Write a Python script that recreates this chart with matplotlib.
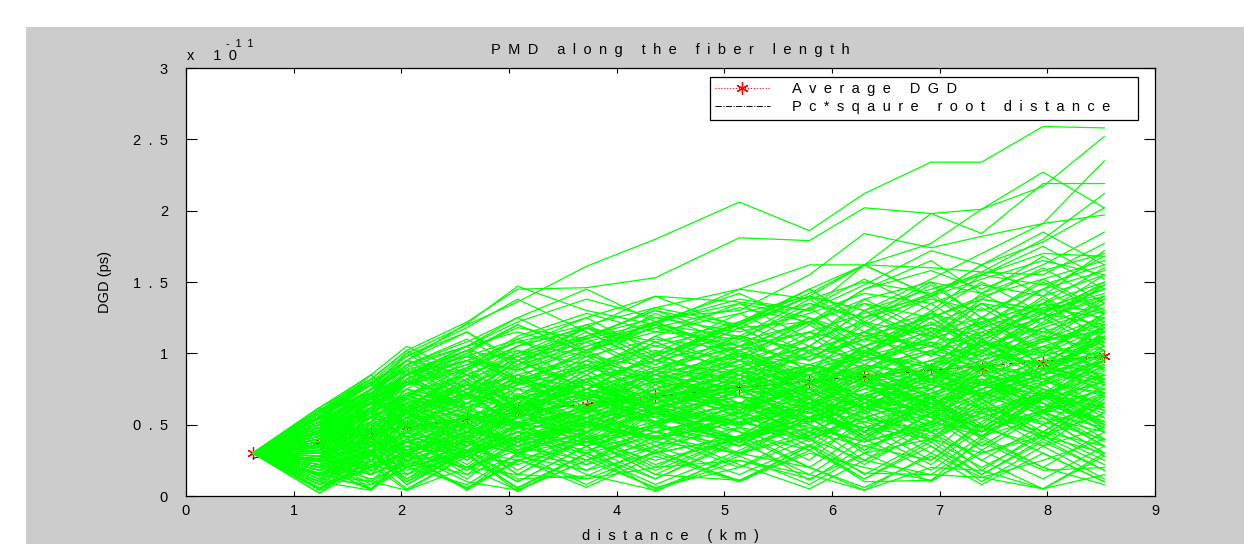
import numpy as np
import matplotlib
matplotlib.use("Agg")
import matplotlib.pyplot as plt
from matplotlib.patches import Rectangle

plt.rcParams['font.family'] = ['Liberation Sans', 'DejaVu Sans']

# fiber sections (km) at which the DGD is evaluated
distance_km = [0.62, 1.24, 1.72, 2.05, 2.61, 3.08, 3.72, 4.36, 5.14, 5.79,
               6.30, 6.92, 7.39, 7.96, 8.53]

# mean DGD over all fiber realisations (x 1e-11 s)
average_dgd = [0.30, 0.38, 0.45, 0.49, 0.55, 0.60, 0.64, 0.70, 0.76, 0.80,
               0.84, 0.89, 0.90, 0.93, 0.98]

# PMD coefficient used for the square-root reference curve
PC = 0.335

# individual fiber realisations (x 1e-11 s)
upper_paths = [
    [.30, .55, .80, 1.00, 1.20, 1.36, 1.61, 1.80, 2.06, 1.86, 2.12, 2.34, 2.34, 2.59, 2.58],
    [.30, .60, .82, 1.02, 1.22, 1.45, 1.46, 1.53, 1.81, 1.79, 2.02, 1.98, 2.01, 2.27, 2.02],
    [.30, .58, .78, .95, 1.21, 1.47, 1.30, 1.20, 1.45, 1.62, 1.62, 1.77, 2.01, 2.17, 2.52],
    [.30, .50, .72, .90, 1.05, 1.22, 1.38, 1.25, 1.30, 1.55, 1.84, 1.74, 1.82, 1.91, 2.35],
    [.30, .52, .70, .85, .98, 1.10, 1.25, 1.40, 1.36, 1.30, 1.62, 1.98, 1.84, 2.19, 2.19],
    [.30, .45, .65, .85, 1.02, 1.18, 1.10, 1.32, 1.20, 1.45, 1.62, 1.60, 1.57, 1.80, 2.12],
    [.30, .48, .62, .80, .95, .88, 1.05, 1.22, 1.38, 1.30, 1.48, 1.72, 1.62, 1.78, 2.02],
    [.30, .40, .60, .78, .88, 1.05, 1.18, 1.05, 1.20, 1.40, 1.30, 1.52, 1.70, 1.91, 1.97],
    [.30, .55, .75, .88, 1.02, .95, 1.12, 1.30, 1.18, 1.22, 1.45, 1.58, 1.45, 1.62, 1.85],
    [.30, .45, .55, .70, .90, 1.12, 1.28, 1.15, 1.10, 1.35, 1.25, 1.42, 1.57, 1.55, 1.77],
]

high_paths = [
    [.30, .55, .75, .92, 1.05, 1.15, 1.02, 1.18, 1.32, 1.22, 1.38, 1.50, 1.42, 1.58, 1.70],
    [.30, .50, .70, .85, .98, .88, 1.02, 1.15, 1.28, 1.40, 1.30, 1.45, 1.55, 1.48, 1.62],
    [.30, .60, .80, .95, .85, 1.00, 1.12, 1.25, 1.15, 1.28, 1.42, 1.35, 1.48, 1.40, 1.55],
    [.30, .45, .62, .78, .90, 1.05, 1.18, 1.08, 1.22, 1.35, 1.25, 1.38, 1.30, 1.45, 1.58],
    [.30, .52, .68, .80, .92, 1.08, .98, 1.10, 1.02, 1.15, 1.28, 1.40, 1.52, 1.65, 1.55],
    [.30, .40, .58, .72, .85, .98, 1.10, 1.22, 1.35, 1.25, 1.12, 1.25, 1.38, 1.30, 1.42],
    [.30, .58, .72, .68, .82, .95, 1.08, 1.20, 1.12, 1.02, 1.15, 1.05, 1.18, 1.32, 1.45],
    [.30, .48, .66, .82, .95, 1.08, 1.20, 1.32, 1.45, 1.38, 1.50, 1.42, 1.55, 1.70, 1.68],
    [.30, .58, .82, .62, .88, 1.10, .85, 1.12, 1.35, 1.10, 1.38, 1.15, 1.42, 1.20, 1.48],
    [.30, .50, .30, .55, .80, .58, .85, 1.08, .85, 1.10, 1.35, 1.12, 1.38, 1.60, 1.35],
    [.30, .40, .65, .88, .70, .95, 1.18, .95, 1.22, 1.00, 1.25, 1.50, 1.25, 1.52, 1.30],
    [.30, .62, .85, 1.05, .85, .62, .88, 1.12, .90, 1.15, .92, 1.18, .95, 1.22, 1.48],
    [.30, .46, .70, .50, .75, .98, .75, 1.00, .78, 1.05, 1.30, 1.05, 1.32, 1.08, 1.35],
    [.30, .28, .52, .75, .98, .78, 1.02, .80, 1.05, .82, .60, .85, 1.10, .88, 1.15],
    [.30, .54, .78, .98, 1.18, 1.38, 1.15, .92, 1.18, .95, 1.22, .98, 1.25, 1.02, 1.28],
    [.30, .36, .60, .40, .65, .88, 1.10, .88, 1.12, 1.38, 1.15, 1.40, 1.18, 1.45, 1.22],
    [.30, .20, .45, .68, .45, .70, .92, .70, .95, .72, .98, .75, 1.00, 1.25, 1.50],
    [.30, .60, .40, .65, .42, .68, .45, .70, .95, 1.20, .98, 1.22, 1.00, 1.25, 1.02],
    [.30, .42, .62, .82, 1.00, .80, .58, .82, .60, .85, .62, .88, 1.12, 1.38, 1.15],
    [.30, .52, .72, .92, .72, .95, .75, .98, 1.22, 1.45, 1.22, .98, 1.25, 1.00, 1.28],
    [.30, .44, .65, .85, 1.05, 1.25, 1.45, 1.22, .98, 1.22, 1.00, 1.25, 1.02, 1.28, 1.05],
    [.30, .38, .15, .40, .18, .42, .65, .88, .65, .90, .68, .92, 1.15, .92, 1.18],
    [.30, .32, .56, .78, 1.00, 1.20, 1.00, 1.22, 1.00, .78, 1.02, .80, 1.05, .82, .60],
    [.30, .50, .72, .92, 1.10, .90, 1.12, 1.30, 1.10, 1.32, 1.52, 1.30, 1.55, 1.75, 1.52],
    [.30, .44, .66, .86, 1.02, 1.20, 1.00, 1.22, 1.42, 1.20, 1.45, 1.65, 1.42, 1.68, 1.45],
    [.30, .56, .78, .58, .80, 1.00, 1.20, .98, 1.22, 1.42, 1.62, 1.40, 1.62, 1.40, 1.72],
    [.30, .40, .62, .82, 1.02, .80, 1.02, 1.22, 1.02, 1.25, 1.05, 1.28, 1.50, 1.28, 1.55],
    [.30, .52, .74, .95, .75, .98, 1.18, 1.40, 1.18, 1.40, 1.62, 1.40, 1.62, 1.85, 1.62],
    [.30, .60, .78, .98, 1.15, .95, .75, .98, 1.20, 1.40, 1.20, 1.42, 1.20, 1.45, 1.68],
]

mid_paths = [
    [.30, .40, .55, .48, .62, .70, .60, .75, .90, .85, .95, 1.05, .98, 1.10, 1.15],
    [.30, .25, .35, .50, .40, .55, .70, .62, .50, .65, .80, .75, .90, .85, 1.00],
    [.30, .35, .20, .30, .45, .38, .52, .45, .60, .78, .70, .85, .95, 1.10, 1.25],
    [.30, .45, .60, .70, .55, .68, .80, .95, .85, .70, .82, .65, .75, .90, .80],
    [.30, .20, .30, .22, .35, .50, .45, .30, .42, .55, .48, .62, .55, .70, .62],
    [.30, .50, .40, .55, .70, .60, .72, .88, 1.05, .95, 1.10, 1.20, 1.35, 1.28, 1.45],
    [.30, .15, .25, .40, .30, .45, .35, .50, .65, .55, .70, .58, .72, .60, .75],
    [.30, .38, .50, .42, .30, .40, .55, .68, .60, .75, .62, .50, .65, .78, .95],
    [.30, .55, .68, .60, .75, .85, .98, .90, 1.05, 1.15, 1.05, 1.20, 1.12, 1.30, 1.40],
    [.30, .28, .42, .35, .48, .40, .30, .42, .55, .45, .60, .72, .85, .78, .90],
    [.30, .42, .30, .45, .60, .52, .65, .55, .40, .50, .38, .52, .45, .60, .55],
    [.30, .18, .10, .25, .38, .30, .45, .60, .50, .62, .75, .88, .80, .95, 1.10],
    [.30, .48, .62, .75, .65, .80, .70, .85, 1.00, .92, .80, .95, 1.08, 1.00, 1.18],
    [.30, .32, .45, .58, .50, .35, .48, .40, .55, .70, .85, .78, .92, 1.05, .98],
    [.30, .22, .15, .28, .20, .35, .50, .62, .75, .68, .55, .70, .62, .50, .65],
    [.30, .45, .35, .25, .40, .55, .68, .80, .72, .88, 1.00, .92, .80, .95, .85],
    [.30, .60, .72, .85, .95, .82, .70, .85, .75, .90, 1.02, 1.15, 1.25, 1.15, 1.30],
    [.30, .12, .22, .15, .30, .22, .38, .25, .40, .55, .65, .52, .68, .80, .72],
    [.30, .36, .48, .60, .72, .85, .75, .62, .78, .65, .80, .92, 1.05, 1.20, 1.35],
    [.30, .26, .38, .30, .20, .32, .45, .58, .45, .32, .48, .40, .55, .42, .58],
    [.30, .50, .65, .58, .72, .62, .78, .70, .88, 1.00, .90, 1.02, 1.15, 1.28, 1.20],
    [.30, .40, .28, .40, .55, .65, .52, .68, .80, .92, .85, .70, .82, .70, .85],
    [.30, .30, .42, .55, .48, .60, .75, .90, .82, .98, 1.12, 1.05, .92, 1.08, 1.22],
    [.30, .08, .20, .30, .42, .35, .25, .38, .30, .45, .35, .48, .60, .72, .62],
    [.30, .44, .58, .50, .65, .78, .90, 1.02, .90, 1.05, .95, 1.10, 1.22, 1.35, 1.50],
    [.30, .34, .25, .38, .50, .62, .55, .45, .58, .72, .62, .78, .70, .58, .72],
    [.30, .52, .45, .35, .48, .38, .52, .65, .78, .70, .82, .95, .88, 1.02, .90],
    [.30, .24, .35, .45, .35, .48, .62, .52, .65, .78, .92, .85, 1.00, .92, 1.08],
    [.30, .46, .55, .65, .78, .70, .60, .75, .65, .52, .65, .55, .70, .85, 1.00],
    [.30, .16, .28, .38, .28, .42, .55, .45, .58, .48, .38, .52, .42, .55, .45],
    [.30, .38, .52, .65, .78, .92, 1.05, 1.18, 1.05, 1.22, 1.12, 1.25, 1.38, 1.30, 1.48],
    [.30, .28, .18, .30, .45, .58, .72, .62, .75, .88, .78, .62, .75, .88, .78],
    [.30, .56, .45, .60, .50, .65, .78, .68, .82, .72, .88, 1.00, .90, 1.05, 1.18],
    [.30, .20, .32, .25, .38, .30, .22, .35, .48, .40, .55, .68, .58, .45, .35],
    [.30, .42, .55, .70, .85, .75, .88, 1.00, 1.12, 1.02, 1.15, 1.28, 1.18, 1.32, 1.25],
    [.30, .32, .40, .32, .42, .55, .45, .58, .70, .82, .70, .85, .78, .65, .50],
    [.30, .50, .60, .70, .62, .50, .62, .75, .62, .78, .90, 1.02, .95, .82, .95],
    [.30, .14, .25, .18, .28, .40, .52, .40, .52, .65, .55, .42, .55, .68, .80],
    [.30, .40, .50, .62, .55, .68, .82, .95, 1.08, 1.22, 1.35, 1.25, 1.40, 1.52, 1.65],
    [.30, .36, .30, .42, .32, .45, .38, .50, .40, .52, .62, .72, .85, .98, 1.12],
    [.30, .48, .38, .50, .62, .75, .68, .55, .70, .58, .72, .85, .75, .88, .75],
    [.30, .22, .32, .44, .56, .48, .60, .72, .85, .75, .62, .75, .88, .80, .95],
    [.30, .58, .70, .62, .75, .68, .82, .95, .85, .98, 1.10, 1.00, 1.12, 1.25, 1.40],
    [.30, .30, .38, .28, .40, .52, .42, .30, .42, .55, .68, .60, .48, .60, .70],
    [.30, .44, .32, .45, .58, .50, .62, .75, .88, .80, .92, .82, .95, 1.08, 1.20],
    [.30, .26, .18, .32, .45, .38, .50, .42, .30, .42, .55, .45, .58, .70, .60],
    [.30, .52, .64, .78, .92, 1.02, .92, 1.05, .95, 1.10, 1.22, 1.12, 1.05, 1.18, 1.32],
    [.30, .34, .46, .38, .50, .62, .75, .65, .52, .40, .52, .65, .78, .65, .52],
    [.30, .12, .08, .20, .32, .45, .58, .70, .62, .75, .68, .80, .72, .85, .98],
    [.30, .40, .52, .44, .35, .48, .60, .52, .65, .58, .48, .62, .75, .88, 1.02],
    [.30, .48, .58, .72, .65, .55, .68, .58, .72, .85, .98, .90, 1.02, .92, 1.05],
    [.30, .28, .40, .32, .45, .58, .48, .62, .52, .68, .58, .72, .85, .75, .65],
    [.30, .36, .28, .20, .32, .25, .38, .50, .62, .52, .65, .55, .45, .58, .48],
    [.30, .50, .40, .52, .65, .78, .90, .80, .92, 1.05, .95, 1.08, .98, 1.12, 1.02],
    [.30, .20, .30, .42, .55, .45, .35, .48, .38, .52, .65, .78, .70, .82, .92],
    [.30, .46, .60, .52, .45, .58, .50, .62, .75, .65, .78, .90, 1.02, 1.15, 1.08],
    [.30, .32, .22, .35, .28, .40, .52, .65, .78, .90, .80, .68, .80, .70, .58],
    [.30, .54, .66, .58, .70, .82, .72, .85, .98, .88, 1.00, .90, .78, .90, 1.02],
    [.30, .38, .48, .58, .48, .38, .50, .40, .52, .42, .55, .45, .58, .72, .85],
    [.30, .24, .15, .25, .15, .28, .18, .30, .42, .55, .68, .58, .72, .62, .75],
    [.30, .42, .50, .60, .72, .62, .75, .88, .78, .92, .82, .95, 1.08, .98, 1.12],
    [.30, .30, .20, .32, .44, .55, .68, .80, .70, .58, .70, .82, .72, .85, .95],
    [.30, .56, .68, .80, .70, .82, .95, .85, .75, .88, .78, .65, .78, .90, .82],
    [.30, .18, .28, .20, .30, .42, .32, .45, .35, .48, .38, .50, .62, .52, .40],
    [.30, .44, .56, .68, .58, .48, .60, .72, .62, .75, .88, .80, .92, .82, .70],
    [.30, .36, .45, .38, .52, .65, .55, .68, .80, .92, 1.05, 1.18, 1.10, 1.25, 1.38],
    [.30, .26, .36, .28, .40, .32, .45, .58, .50, .62, .52, .40, .30, .42, .30],
    [.30, .48, .40, .52, .42, .55, .68, .58, .70, .62, .75, .65, .78, .68, .80],
    [.30, .34, .44, .55, .68, .80, .92, .82, .95, .85, .98, 1.10, 1.22, 1.35, 1.28],
    [.30, .22, .12, .22, .35, .48, .40, .52, .65, .55, .45, .58, .48, .35, .48],
]

zigzag_paths = [
    [.30, .62, .40, .68, .45, .72, .50, .78, .55, .85, .60, .90, .70, 1.00, .80],
    [.30, .05, .30, .12, .38, .15, .42, .20, .48, .25, .55, .30, .60, .35, .65],
    [.30, .55, .85, .60, .88, .62, .92, .70, 1.00, .75, 1.05, .80, 1.10, .85, 1.15],
    [.30, .45, .20, .48, .25, .52, .30, .60, .35, .65, .40, .70, .45, .75, .50],
    [.30, .58, .35, .62, .90, .65, .95, 1.20, .95, 1.25, 1.00, 1.28, 1.05, 1.35, 1.10],
    [.30, .10, .35, .60, .35, .62, .40, .15, .42, .70, .45, .75, .50, .80, 1.05],
    [.30, .50, .75, 1.00, .75, 1.02, .80, 1.08, .85, .60, .88, .62, .90, 1.18, .92],
    [.30, .25, .50, .28, .55, .30, .58, .85, .60, .90, .65, .40, .68, .42, .70],
    [.30, .40, .15, .40, .20, .45, .22, .50, .75, .50, .25, .52, .80, .55, .30],
    [.30, .60, .85, .65, .40, .68, .95, .70, .98, .72, 1.00, 1.30, 1.05, 1.35, 1.60],
    [.30, .15, .40, .20, .45, .70, .48, .75, .50, .78, 1.05, .80, 1.10, .85, 1.12],
    [.30, .35, .60, .82, .60, .35, .62, .40, .65, .42, .68, .45, .18, .45, .72],
    [.30, .52, .28, .55, .30, .05, .30, .58, .35, .62, .38, .65, .40, .68, .95],
    [.30, .20, .45, .70, .95, .70, .98, .75, 1.02, .78, 1.05, .80, 1.08, 1.35, 1.10],
    [.30, .45, .70, .45, .72, .48, .25, .50, .28, .55, .30, .58, .85, .60, .88],
    [.30, .08, .30, .08, .32, .10, .35, .12, .38, .65, .40, .68, .42, .70, .45],
    [.30, .62, .82, 1.02, .80, .55, .82, .58, .85, 1.12, .88, 1.15, .90, 1.18, .95],
    [.30, .32, .55, .30, .58, .32, .60, .88, .62, .90, .65, .92, .68, .45, .70],
    [.30, .48, .25, .52, .78, .55, .82, .58, .35, .60, .85, .62, .88, .65, .40],
    [.30, .12, .38, .15, .40, .18, .45, .70, .95, .70, .98, 1.25, 1.00, 1.28, 1.05],
    [.30, .56, .80, .58, .82, 1.05, 1.25, 1.00, 1.28, 1.05, 1.30, 1.10, 1.35, 1.12, 1.40],
    [.30, .28, .05, .28, .55, .30, .55, .32, .58, .35, .60, .38, .62, .40, .65],
    [.30, .42, .65, .88, .65, .90, .68, .95, .70, .45, .72, .48, .75, .50, .78],
    [.30, .18, .42, .65, .40, .15, .40, .18, .42, .68, .45, .70, .48, .72, .50],
    [.30, .60, .38, .15, .40, .65, .42, .68, .45, .20, .45, .22, .48, .75, .52],
    [.30, .38, .62, .85, 1.05, .82, 1.08, .85, 1.10, .88, 1.15, .90, .65, .92, 1.18],
    [.30, .02, .28, .52, .30, .55, .80, .55, .82, .58, .85, .60, .88, .62, .90],
    [.30, .50, .72, .50, .25, .50, .75, 1.00, .75, 1.02, .78, .55, .80, .58, .82],
    [.30, .22, .48, .25, .50, .28, .52, .30, .55, .32, .58, .35, .10, .35, .12],
    [.30, .46, .70, .92, 1.08, 1.25, 1.02, 1.28, 1.05, 1.32, 1.08, 1.35, 1.12, 1.40, 1.15],
    [.30, .34, .10, .35, .12, .38, .62, .38, .65, .40, .15, .40, .65, .42, .68],
    [.30, .55, .78, .55, .80, .58, .82, .60, .85, .62, .88, 1.12, 1.35, 1.10, 1.38],
    [.30, .08, .32, .55, .78, .55, .80, .58, .82, 1.05, .82, 1.08, .85, 1.10, .88],
    [.30, .44, .20, .45, .22, .48, .72, .48, .75, .50, .78, .52, .80, .55, .30],
    [.30, .26, .52, .75, .52, .78, 1.00, .78, 1.02, .80, 1.05, .82, 1.08, .85, 1.12],
    [.30, .58, .80, .58, .35, .60, .38, .62, .40, .65, .42, .68, .45, .70, .48],
    [.30, .14, .38, .60, .38, .62, .40, .65, .88, .65, .90, .68, .92, .70, .95],
    [.30, .40, .62, .40, .15, .40, .18, .42, .20, .45, .22, .48, .25, .50, .28],
    [.30, .52, .75, .95, 1.15, .92, 1.18, .95, 1.20, 1.45, 1.22, 1.48, 1.25, 1.50, 1.28],
    [.30, .30, .55, .32, .58, .82, .58, .35, .60, .38, .62, .85, .62, .88, 1.12],
    [.30, .05, .25, .05, .28, .06, .30, .08, .32, .55, .32, .58, .35, .60, .35],
    [.30, .48, .70, .48, .72, .50, .75, .52, .78, .55, .80, .58, .82, .60, .85],
    [.30, .20, .42, .20, .45, .70, .45, .72, .48, .75, .50, .25, .52, .78, .55],
    [.30, .62, .40, .62, .85, .62, .88, .65, .90, .68, .92, .70, .95, .72, .98],
    [.30, .36, .60, .85, .60, .85, .62, .88, 1.12, .88, 1.15, .90, 1.18, .92, 1.20],
    [.30, .10, .32, .10, .35, .60, .35, .62, .38, .15, .40, .18, .42, .20, .45],
    [.30, .54, .30, .55, .32, .58, .35, .60, .38, .62, .40, .65, .42, .68, .45],
    [.30, .24, .48, .72, .48, .75, .52, .78, .55, .80, .58, .82, .60, .85, .62],
    [.30, .44, .68, .90, .68, .92, 1.15, .92, 1.18, .95, 1.20, .98, 1.22, 1.00, 1.25],
    [.30, .16, .05, .28, .05, .30, .08, .32, .10, .35, .12, .38, .15, .40, .18],
    [.30, .34, .58, .80, .58, .82, .60, .85, .62, .88, .65, .92, .68, .95, .72],
    [.30, .48, .68, .45, .70, .48, .72, .50, .75, .52, .78, 1.02, .80, 1.05, .82],
    [.30, .56, .35, .58, .38, .62, .85, .62, .88, .65, .90, .68, .92, .70, .95],
    [.30, .26, .50, .28, .52, .30, .55, .80, .58, .82, 1.05, .82, 1.08, .85, 1.10],
    [.30, .60, .80, .60, .82, .62, .85, .62, .40, .65, .42, .68, .45, .70, .48],
    [.30, .18, .40, .62, .85, .62, .88, .65, .90, .68, .45, .70, .48, .72, .50],
    [.30, .50, .72, .95, .72, .50, .75, .52, .30, .55, .32, .58, .35, .60, .38],
    [.30, .46, .25, .48, .72, .95, .72, .50, .75, .52, .78, .55, .32, .58, .35],
    [.30, .12, .35, .58, .35, .60, .82, .60, .85, .62, .40, .65, .42, .68, .92],
    [.30, .40, .62, .85, .62, .85, .62, .88, .65, .42, .68, .45, .70, .95, .72],
]

lower_paths = [
    [.30, .02, .22, .04, .28, .10, .35, .03, .30, .20, .04, .30, .13, .05, .30],
    [.30, .10, .04, .30, .04, .25, .12, .30, .11, .35, .10, .11, .40, .20, .08],
    [.30, .05, .30, .10, .30, .03, .30, .12, .40, .11, .35, .25, .50, .30, .10],
    [.30, .15, .10, .04, .20, .15, .12, .20, .25, .15, .04, .20, .18, .05, .15],
    [.30, .20, .05, .20, .08, .30, .40, .15, .11, .30, .20, .11, .30, .45, .25],
    [.30, .08, .18, .30, .10, .04, .25, .06, .20, .40, .25, .15, .13, .25, .40],
    [.30, .10, .30, .08, .30, .50, .28, .05, .28, .08, .30, .10, .32, .12, .35],
    [.30, .22, .04, .24, .05, .26, .06, .28, .10, .32, .12, .35, .15, .38, .18],
    [.30, .04, .24, .40, .20, .04, .25, .45, .22, .05, .25, .45, .25, .05, .28],
    [.30, .14, .32, .12, .32, .12, .14, .35, .15, .36, .16, .15, .38, .18, .20],
    [.30, .06, .20, .38, .18, .38, .15, .04, .25, .12, .30, .40, .20, .42, .22],
    [.30, .28, .08, .26, .06, .24, .44, .22, .42, .20, .06, .28, .08, .30, .10],
]

x_ticks = [0, 1, 2, 3, 4, 5, 6, 7, 8, 9]
y_ticks = [0, 0.5, 1, 1.5, 2, 2.5, 3]

SP = '\u2002'


def spaced(text):
    """Widely tracked text, one en space between glyphs."""
    return SP.join(text)


W, H = 1244, 544
fig = plt.figure(figsize=(W / 100, H / 100), dpi=100, facecolor='white')
fig.patches.append(Rectangle((26 / W, 0), 1 - 26 / W, 1 - 27 / H,
                             transform=fig.transFigure, facecolor='#cccccc',
                             edgecolor='none', zorder=-10))

ax = fig.add_axes([186 / W, 1 - 496 / H, 969 / W, 428 / H])
ax.set_facecolor('white')

# reference curves first, the realisations are drawn over them
x = np.array(distance_km)
ax.plot(x, average_dgd, color='red', ls=':', lw=0.8, marker=(6, 2, 0),
        ms=9, mew=0.9, zorder=1, label=spaced('Average DGD') + SP * 3)
ax.plot(x, PC * np.sqrt(x), color='black', ls='-.', lw=0.7, zorder=1,
        label=spaced('Pc*sqaure root distance') + SP * 3)

for path in mid_paths + zigzag_paths + high_paths + lower_paths + upper_paths:
    ax.plot(distance_km, path, color='#00ff00', lw=0.9, zorder=2)

ax.set_xlim(0, 9)
ax.set_ylim(0, 3)
ax.set_xticks(x_ticks)
ax.set_xticklabels([str(t) for t in x_ticks])
ax.set_yticks(y_ticks)
ax.set_yticklabels([spaced(f'{t:g}') for t in y_ticks])
ax.tick_params(axis='both', direction='in', top=True, right=True,
               colors='black', labelsize=10.5, width=0.8)
ax.tick_params(axis='x', length=3.5, pad=6)
ax.tick_params(axis='y', length=8, pad=13)
for s in ax.spines.values():
    s.set_color('black')
    s.set_linewidth(0.9)

ax.set_title(spaced('PMD along the fiber length'), fontsize=10.5, pad=10)
ax.set_xlabel(spaced('distance (km)'), fontsize=10.5, labelpad=8)
ax.set_ylabel('DGD (ps)', fontsize=10.5, labelpad=15)

# exponent annotation above the y axis
fig.text(187 / W, 1 - 60 / H, spaced('x 10'), fontsize=10.5, ha='left', va='baseline')
fig.text(226 / W, 1 - 47 / H, spaced('-11'), fontsize=8, ha='left', va='baseline')

leg = ax.legend(loc='upper right', bbox_to_anchor=(0.982, 0.979),
                fancybox=False, framealpha=1, edgecolor='black',
                fontsize=10.5, handlelength=3.8, handletextpad=1.5,
                borderpad=0.35, labelspacing=0.3, borderaxespad=0)
leg.get_frame().set_linewidth(0.9)
leg.set_zorder(5)

fig.savefig('out.png', dpi=100, facecolor=fig.get_facecolor())
